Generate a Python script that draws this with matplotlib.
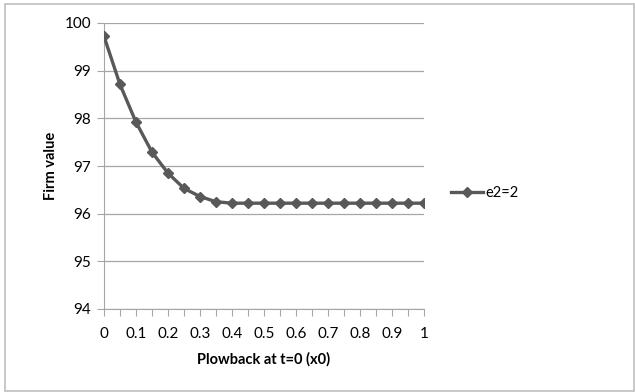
import numpy as np
import matplotlib.pyplot as plt
from matplotlib.patches import Rectangle

# plowback at t=0 (categories) and firm value
x0 = ["0", "0.05", "0.1", "0.15", "0.2", "0.25", "0.3", "0.35", "0.4", "0.45", "0.5",
      "0.55", "0.6", "0.65", "0.7", "0.75", "0.8", "0.85", "0.9", "0.95", "1"]
firm_value = [99.72, 98.71, 97.92, 97.29, 96.85, 96.53, 96.36, 96.25, 96.22, 96.22, 96.22,
              96.22, 96.22, 96.22, 96.22, 96.22, 96.22, 96.22, 96.22, 96.22, 96.22]
serie = "e2=2"

plt.rcParams['font.family'] = ['Lato', 'DejaVu Sans']

fig = plt.figure(figsize=(6.35, 3.92), dpi=100)
ax = fig.add_axes([104/635, 1 - 309/392, 320/635, 286/392])

pos = np.arange(len(x0))
ax.plot(pos, firm_value, color="#595959", lw=2.4, marker="D", ms=5.5,
        mfc="#595959", mec="#595959", label=serie, zorder=3)

ax.set_xlim(0, len(x0) - 1)
ax.set_ylim(94, 100)
ax.set_yticks(range(94, 101))
ax.set_xticks(pos)
ax.set_xticklabels([lab if i % 2 == 0 else "" for i, lab in enumerate(x0)])
ax.grid(axis="y", color="#a6a6a6", lw=0.9)
ax.set_axisbelow(True)
for s in ["top", "right"]:
    ax.spines[s].set_visible(False)
for s in ["left", "bottom"]:
    ax.spines[s].set_color("#a6a6a6")
ax.tick_params(axis="x", length=5, direction="out", color="#a6a6a6", labelsize=11, pad=8)
ax.tick_params(axis="y", length=5, direction="out", color="#a6a6a6", labelsize=11, pad=4)

ax.set_xlabel("Plowback at t=0 (x0)", fontsize=10.5, fontweight="bold", labelpad=8)
ax.set_ylabel("Firm value", fontsize=10.5, fontweight="bold", labelpad=5)

ax.legend(loc="center left", bbox_to_anchor=(1.065, 0.406), frameon=False, fontsize=10.5,
          handlelength=2.2, handletextpad=0.2, borderaxespad=0)

fig.patches.append(Rectangle((5/635, 1/392), 629/635, 387/392, transform=fig.transFigure,
                             fill=False, ec="#bfbfbf", lw=1.2))

fig.savefig("out.png", dpi=100)
